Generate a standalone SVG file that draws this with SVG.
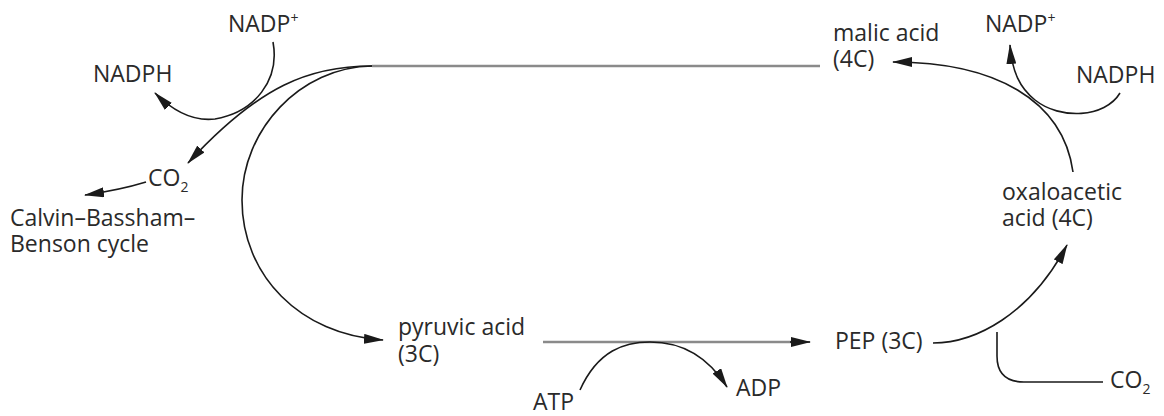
<svg xmlns="http://www.w3.org/2000/svg" width="1164" height="416" viewBox="0 0 1164 416">
<defs>
<marker id="ah" viewBox="0 0 20 10" refX="19" refY="5" markerWidth="20" markerHeight="10" markerUnits="userSpaceOnUse" orient="auto">
<path d="M0,0 L20,5 L0,10 Z" fill="#1a1a1a"/>
</marker>
</defs>
<style>
text { font-family: "Open Sans", "Noto Sans", sans-serif; font-size: 23px; fill: #2a2a2a; }
.sup, .sub { font-size: 14px; }
.c { fill: none; stroke: #1a1a1a; stroke-width: 1.6; }
.g { fill: none; stroke: #8a8a8a; stroke-width: 2.4; }
.a { marker-end: url(#ah); }
</style>
<rect width="1164" height="416" fill="#ffffff"/>
<g id="connectors">
<path class="g" d="M372,66 L820,66"/>
<path class="c a" d="M372,66 C310,66 260,85 188,163"/>
<path class="c a" d="M372,66 C300,67 242,130 242,200 C242,275 300,335 383,340"/>
<path class="c a" d="M273,42 C280,80 255,112 215,119 C190,122 170,108 155,93"/>
<path class="c a" d="M146,182 Q120,190 85,195"/>
<path class="g" d="M543,342 L792,342"/>
<path class="c a" d="M790,342 L810,342"/>
<path class="c a" d="M580,390 C598,350 625,342 650,342 C685,342 710,360 727,387"/>
<path class="c a" d="M933,343 C975,343 1030,315 1067,245"/>
<path class="c" d="M1103,382 L1024,382 Q997,382 997,356 L997,332"/>
<path class="c a" d="M1073,172 C1063,100 995,62 893,62"/>
<path class="c a" d="M1120,93 C1105,118 1060,120 1035,100 C1020,88 1012,72 1010,45"/>
</g>
<g id="nadp-left"><text x="228" y="32">NADP<tspan class="sup" dy="-9">+</tspan></text></g>
<g id="nadph-left"><text x="93" y="82">NADPH</text></g>
<g id="co2-left"><text x="148" y="186">CO<tspan class="sub" dy="6">2</tspan></text></g>
<g id="calvin"><text x="10" y="226">Calvin–Bassham–</text><text x="10" y="252">Benson cycle</text></g>
<g id="malic"><text x="833" y="41">malic acid</text><text x="833" y="67">(4C)</text></g>
<g id="nadp-right"><text x="985" y="32">NADP<tspan class="sup" dy="-9">+</tspan></text></g>
<g id="nadph-right"><text x="1076" y="83">NADPH</text></g>
<g id="oxaloacetic"><text x="1002" y="200">oxaloacetic</text><text x="1002" y="226">acid (4C)</text></g>
<g id="pyruvic"><text x="398" y="335">pyruvic acid</text><text x="398" y="362">(3C)</text></g>
<g id="pep"><text x="835" y="349">PEP (3C)</text></g>
<g id="atp"><text x="533" y="410">ATP</text></g>
<g id="adp"><text x="736" y="396">ADP</text></g>
<g id="co2-right"><text x="1110" y="388">CO<tspan class="sub" dy="6">2</tspan></text></g>
</svg>
